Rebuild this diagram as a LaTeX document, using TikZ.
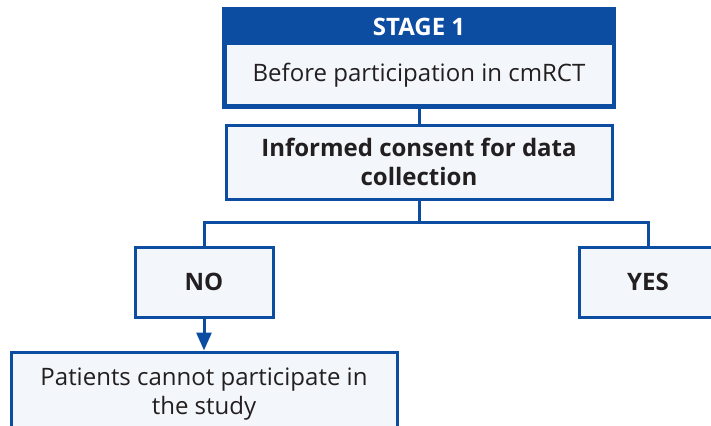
\documentclass[tikz,border=0pt]{standalone}
\usepackage{fontspec}
\setmainfont{Open Sans}
\usetikzlibrary{arrows.meta,positioning}
\definecolor{flowblue}{HTML}{0D4DA1}
\definecolor{boxfill}{HTML}{F3F6FA}
\definecolor{inktext}{HTML}{231F20}
\tikzset{
  flowbox/.style={draw=flowblue, fill=boxfill, line width=3pt, text=inktext,
    align=center, inner sep=0pt, font=\fontsize{24}{29}\selectfont},
  boldbox/.style={flowbox, font=\fontsize{24}{29}\selectfont\bfseries},
  link/.style={draw=flowblue, line width=3pt},
  arrowlink/.style={link, -{Triangle[width=15pt,length=18pt]}}
}
\begin{document}
\begin{tikzpicture}[x=1pt,y=-1pt]
  \useasboundingbox (0,0) rectangle (711,425);
  \clip (0,0) rectangle (711,425);
  % Stage 1 panel: blue header over a light body
  \node[flowbox, minimum width=388pt, minimum height=62pt] (stage) at (419,75) {Before participation in cmRCT};
  \node[draw=flowblue, fill=flowblue, line width=3pt, minimum width=388pt, minimum height=34pt,
        text=white, font=\fontsize{24}{29}\selectfont\bfseries, inner sep=0pt] (head) at (419,27) {STAGE 1};
  \draw[flowblue, line width=3pt] (head.north west) rectangle (stage.south east);
  % consent question
  \node[boldbox, minimum width=386pt, minimum height=74pt] (consent) at (419,162)
    {Informed consent for data\\collection};
  % answers
  \node[boldbox, minimum width=138pt, minimum height=70pt] (no) at (204,282) {NO};
  \node[boldbox, minimum width=138pt, minimum height=70pt] (yes) at (648,282) {YES};
  \node[flowbox, minimum width=386pt, minimum height=84pt] (out) at (204,394)
    {Patients cannot participate in\\the study};
  % connectors
  \draw[link] (stage.south) -- (consent.north);
  \coordinate (split) at (419,222);
  \draw[link] (consent.south) -- (split);
  \draw[link] (no.north) |- (split) -| (yes.north);
  \draw[arrowlink] (no.south) -- (out.north);
\end{tikzpicture}
\end{document}
